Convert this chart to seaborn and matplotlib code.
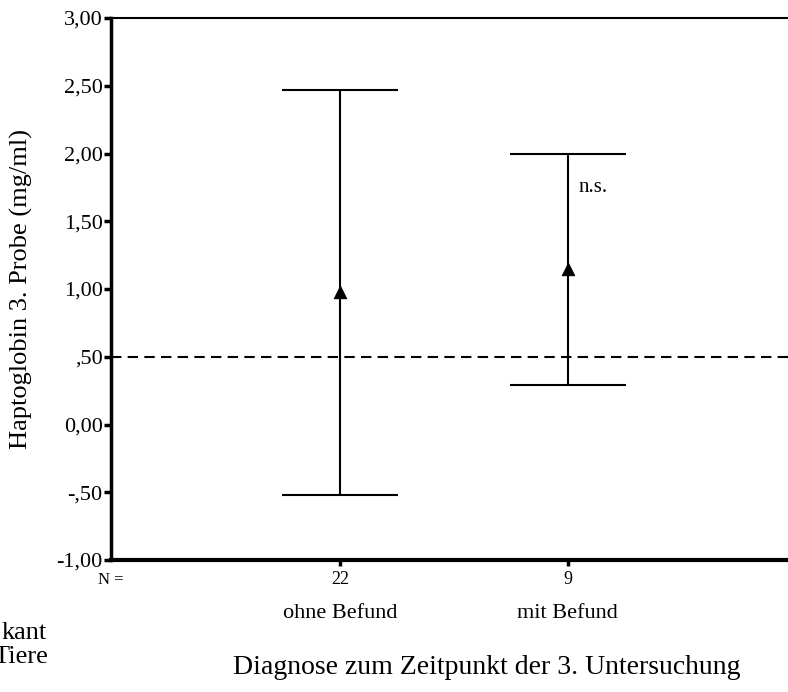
import numpy as np
import pandas as pd
import matplotlib
matplotlib.use("Agg")
import matplotlib.pyplot as plt
import matplotlib.transforms as mtransforms
import seaborn as sns

# datos
gruppen = ['ohne Befund', 'mit Befund']
n_tiere = [22, 9]
mittelwert = [0.98, 1.15]
ci_oben = [2.47, 2.00]
ci_unten = [-0.52, 0.29]
yticks = [-1.0, -0.5, 0.0, 0.5, 1.0, 1.5, 2.0, 2.5, 3.0]
ytick_labels = ['-1,00', '-,50', '0,00', ',50', '1,00', '1,50', '2,00', '2,50', '3,00']
grenzwert = 0.5

df = pd.DataFrame({'Gruppe': gruppen, 'pos': [1, 2], 'mean': mittelwert,
                   'lo': ci_unten, 'hi': ci_oben})

sns.set_style('ticks', {'axes.edgecolor': 'black', 'text.color': 'black',
                        'axes.labelcolor': 'black', 'xtick.color': 'black',
                        'ytick.color': 'black'})
plt.rcParams['font.family'] = ['Liberation Serif', 'DejaVu Serif']

fig = plt.figure(figsize=(7.88, 6.92), dpi=100)
ax = fig.add_axes([111 / 788, 132 / 692, 1 - 111 / 788, (560 - 18) / 692])

# intervalos
ax.errorbar(df['pos'], df['mean'],
            yerr=[df['mean'] - df['lo'], df['hi'] - df['mean']],
            fmt='none', ecolor='black', elinewidth=1.5, capsize=42, capthick=1.5)
sns.scatterplot(data=df, x='pos', y='mean', marker='^', color='black', s=80,
                edgecolor='black', ax=ax, zorder=5, legend=False)

ax.axhline(grenzwert, color='black', linestyle=(0, (5, 3)), linewidth=1.5)
ax.text(2.05, 1.75, 'n.s.', fontsize=15, ha='left', va='center', color='black')

ax.set_xlim(-0.01, 2.97)
ax.set_ylim(-1.0, 3.0)
ax.set_yticks(yticks)
ax.set_yticklabels(ytick_labels, fontsize=16)
ax.set_xticks([1, 2])
ax.set_xticklabels([])
ax.tick_params(axis='y', direction='out', length=5, width=2.5, pad=1, colors='black')
ax.tick_params(axis='x', direction='out', length=4, width=2.5, colors='black')

ax.spines['right'].set_visible(False)
ax.spines['left'].set_linewidth(2.5)
ax.spines['bottom'].set_linewidth(3)
ax.spines['top'].set_linewidth(1.5)

ax.set_xlabel('')
ax.set_ylabel('Haptoglobin 3. Probe (mg/ml)', fontsize=19, color='black')
ax.yaxis.set_label_coords((33 - 111) / 677, 0.5)

# N und Gruppen unter der Achse
trans = mtransforms.blended_transform_factory(ax.transData, fig.transFigure)
ax.text(-0.01, 1 - 580 / 692, 'N =', fontsize=12, ha='center', va='center', transform=trans)
for p, n, g in zip(df['pos'], n_tiere, gruppen):
    ax.text(p, 1 - 580 / 692, str(n), fontsize=13, ha='center', va='center', transform=trans)
    ax.text(p, 1 - 613 / 692, g, fontsize=16, ha='center', va='center', transform=trans)

fig.text(487 / 788, 1 - 667 / 692, 'Diagnose zum Zeitpunkt der 3. Untersuchung',
         fontsize=20, ha='center', va='center')
fig.text(47 / 788, 1 - 633 / 692, 'kant', fontsize=19, ha='right', va='center')
fig.text(48 / 788, 1 - 657 / 692, 'Tiere', fontsize=19, ha='right', va='center')

fig.savefig('out.png', dpi=100)
